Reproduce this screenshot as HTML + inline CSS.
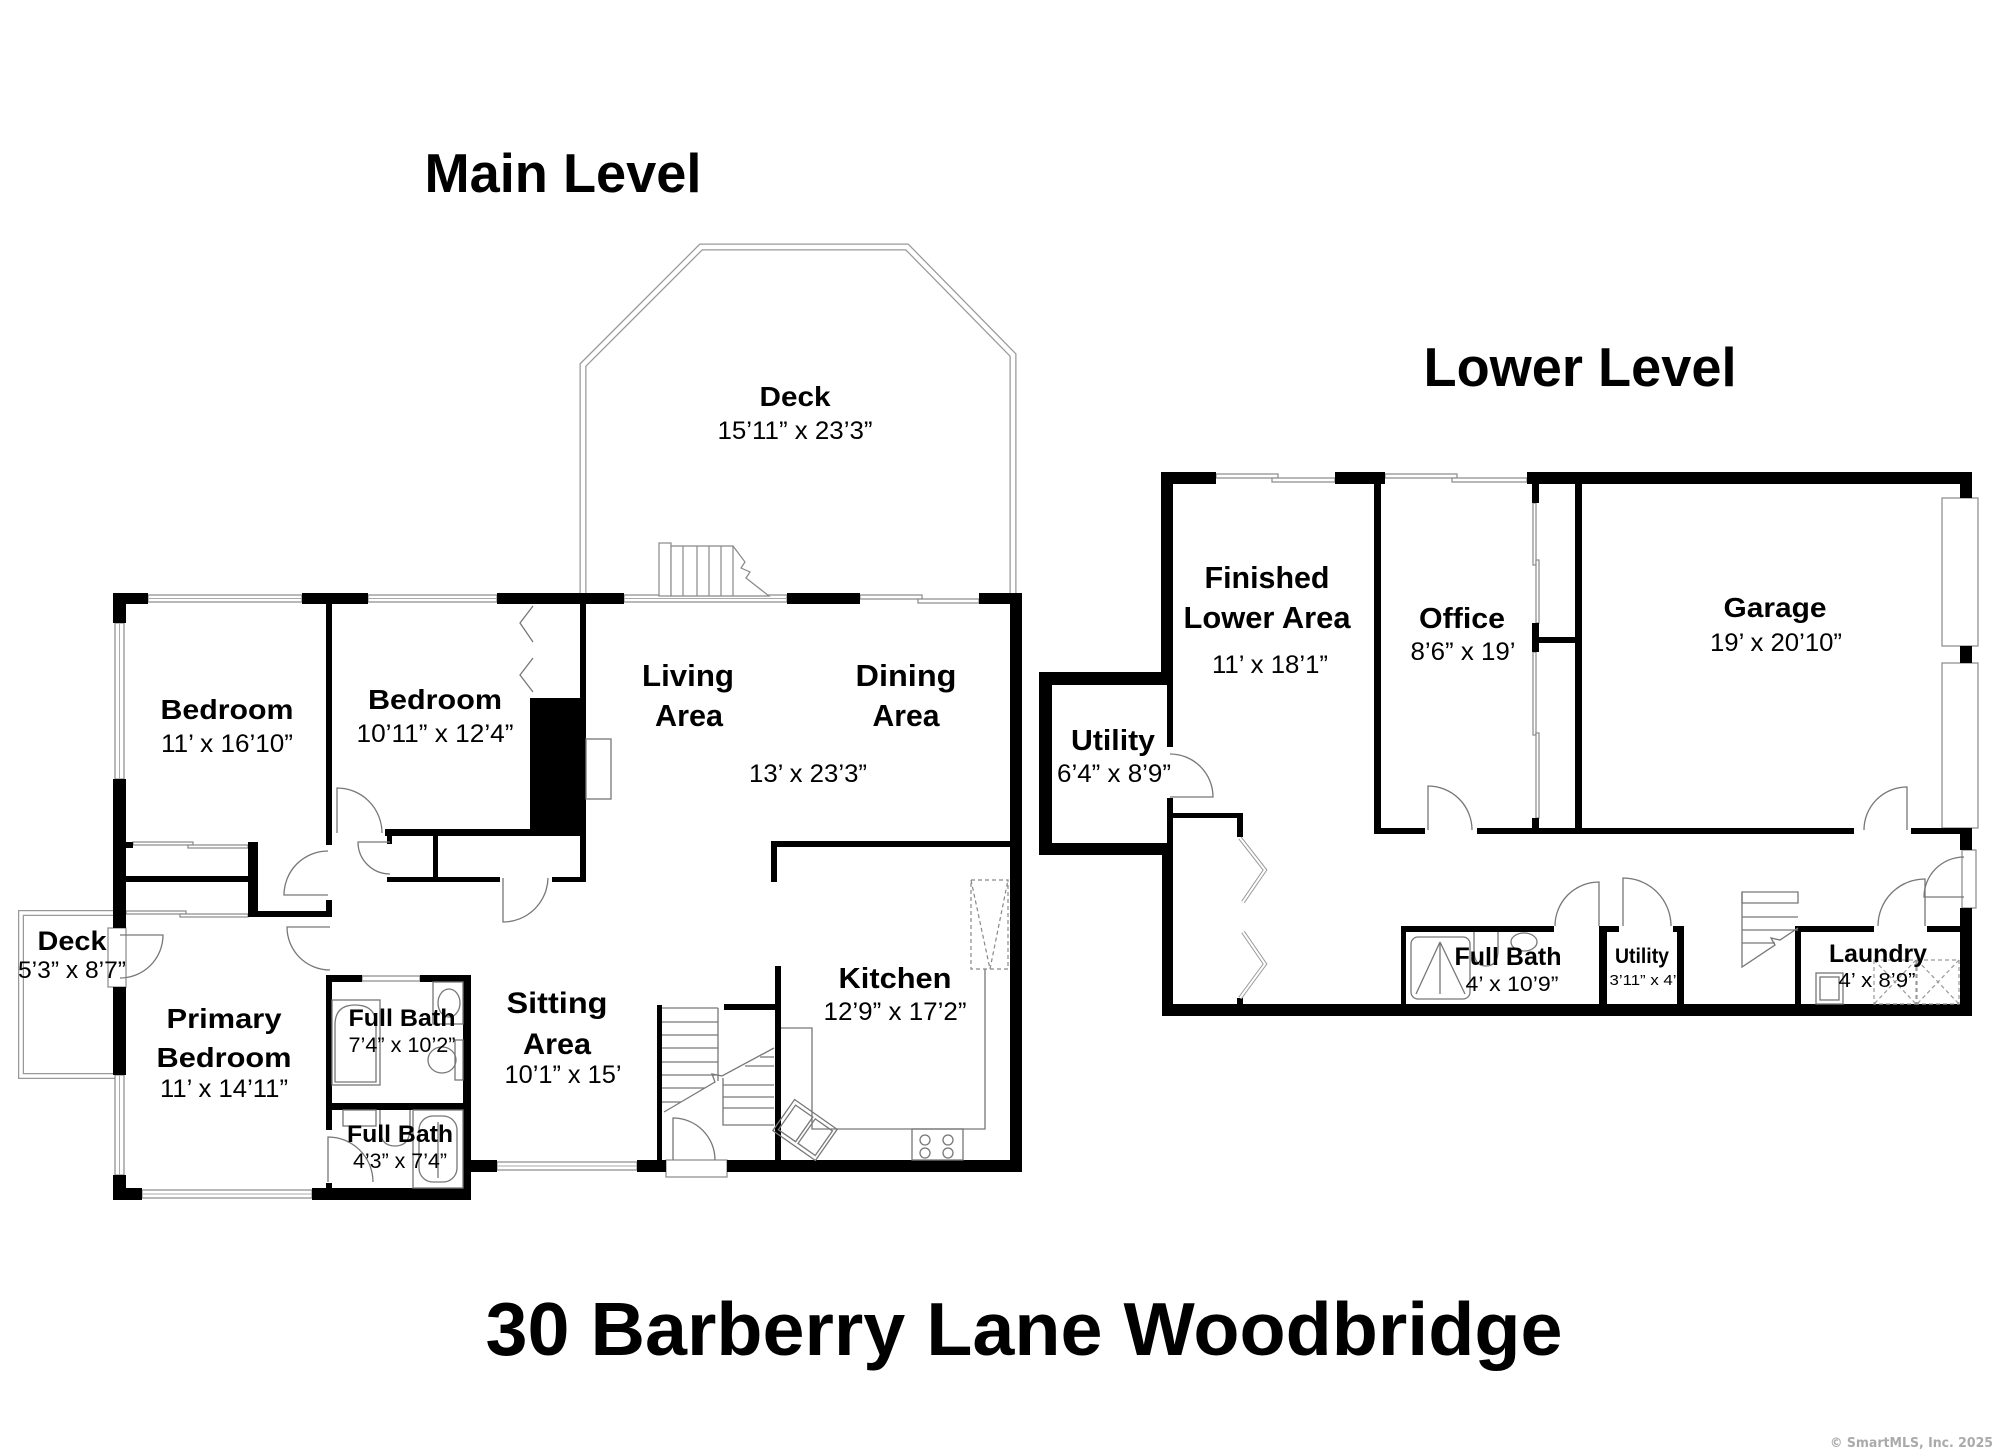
<!DOCTYPE html>
<html><head><meta charset="utf-8">
<style>
html,body{margin:0;padding:0;background:#fff;}
svg{display:block;}
text{font-family:"Liberation Sans",Arial,sans-serif;fill:#000;}
.b{font-weight:bold;}
</style></head><body>
<svg width="1999" height="1454" viewBox="0 0 1999 1454" xmlns="http://www.w3.org/2000/svg">
<rect width="1999" height="1454" fill="#fff"/>

<!-- ===== MAIN DECK (double line) ===== -->
<path d="M583,598 L583,365 L701,247 L907,247 L1013,355 L1013,598" fill="none" stroke="#999" stroke-width="7"/>
<path d="M583,598 L583,365 L701,247 L907,247 L1013,355 L1013,598" fill="none" stroke="#fff" stroke-width="4.5"/>
<!-- small left deck -->
<path d="M116,913 H21 V1076 H116" fill="none" stroke="#999" stroke-width="6"/>
<path d="M116,913 H21 V1076 H116" fill="none" stroke="#fff" stroke-width="3.5"/>

<!-- windows / sliding doors (gray) -->
<g fill="#fff" stroke="#888" stroke-width="1.2">
  <rect x="148" y="595" width="154" height="7"/>
  <rect x="368" y="595" width="129" height="7"/>
  <rect x="624" y="595" width="163" height="7"/>
  <rect x="860" y="595" width="62" height="4"/>
  <rect x="918" y="599" width="61" height="4"/>
  <rect x="115" y="623" width="9" height="156"/>
  <rect x="115" y="1075" width="9" height="100"/>
  <rect x="142" y="1190" width="170" height="8"/>
  <rect x="497" y="1162" width="140" height="8"/>
  <rect x="362" y="976" width="58" height="5"/>
  <rect x="666" y="1160" width="61" height="17"/>
  <rect x="108" y="928" width="18" height="59"/>
  <!-- bed1 closet sliding -->
  <rect x="133" y="842" width="60" height="3"/>
  <rect x="188" y="845" width="60" height="3"/>
  <rect x="126" y="911" width="60" height="3"/>
  <rect x="180" y="914" width="68" height="3"/>
  <!-- lower level -->
  <rect x="1216" y="474" width="62" height="4"/>
  <rect x="1272" y="478" width="63" height="4"/>
  <rect x="1385" y="474" width="72" height="4"/>
  <rect x="1452" y="478" width="75" height="4"/>
  <rect x="1942" y="498" width="36" height="148"/>
  <rect x="1942" y="663" width="36" height="165"/>
  <rect x="1962" y="850" width="14" height="58"/>
  <rect x="1533" y="503" width="3" height="62"/>
  <rect x="1536" y="560" width="3" height="63"/>
  <rect x="1533" y="652" width="3" height="83"/>
  <rect x="1536" y="733" width="3" height="85"/>
</g>
<g stroke="#aaa" stroke-width="1">
  <line x1="148" y1="598.5" x2="302" y2="598.5"/>
  <line x1="368" y1="598.5" x2="497" y2="598.5"/>
  <line x1="624" y1="598.5" x2="787" y2="598.5"/>
  <line x1="119.5" y1="623" x2="119.5" y2="779"/>
  <line x1="119.5" y1="1075" x2="119.5" y2="1175"/>
  <line x1="142" y1="1194" x2="312" y2="1194"/>
  <line x1="497" y1="1166" x2="637" y2="1166"/>
</g>

<!-- deck stairs -->
<g fill="#fff" stroke="#888" stroke-width="1.2">
  <rect x="659" y="543" width="12" height="53"/>
  <path d="M671,546 H733 L745,562 L741,568 L750,572 L746,578 L769,596 H671 Z"/>
  <path d="M683,546 V596 M697,546 V596 M709,546 V596 M721,546 V596 M733,546 V596" fill="none"/>
</g>

<!-- ===== MAIN LEVEL WALLS ===== -->
<g fill="#000">
  <rect x="113" y="593" width="35" height="11"/>
  <rect x="302" y="593" width="66" height="11"/>
  <rect x="497" y="593" width="127" height="11"/>
  <rect x="787" y="593" width="73" height="11"/>
  <rect x="979" y="593" width="43" height="11"/>
  <rect x="113" y="593" width="13" height="30"/>
  <rect x="113" y="779" width="13" height="149"/>
  <rect x="113" y="987" width="13" height="88"/>
  <rect x="113" y="1175" width="13" height="25"/>
  <rect x="113" y="1188" width="29" height="12"/>
  <rect x="312" y="1188" width="159" height="12"/>
  <rect x="463" y="975" width="8" height="225"/>
  <rect x="463" y="1160" width="34" height="12"/>
  <rect x="637" y="1160" width="29" height="12"/>
  <rect x="727" y="1160" width="295" height="12"/>
  <rect x="1010" y="593" width="12" height="579"/>
  <!-- interior -->
  <rect x="326" y="604" width="6" height="241"/>
  <rect x="126" y="842" width="7" height="6"/>
  <rect x="248" y="842" width="10" height="75"/>
  <rect x="126" y="876" width="122" height="6"/>
  <rect x="248" y="911" width="84" height="6"/>
  <rect x="326" y="900" width="6" height="17"/>
  <rect x="385" y="829" width="200" height="7"/>
  <rect x="433" y="836" width="5" height="46"/>
  <rect x="387" y="877" width="113" height="5"/>
  <rect x="552" y="877" width="33" height="5"/>
  <rect x="580" y="604" width="6" height="278"/>
  <rect x="530" y="698" width="56" height="138"/>
  <rect x="387" y="836" width="5" height="8"/>
  <!-- baths -->
  <rect x="326" y="975" width="36" height="7"/>
  <rect x="420" y="975" width="51" height="7"/>
  <rect x="326" y="975" width="6" height="155"/>
  <rect x="326" y="1103" width="145" height="7"/>
  <rect x="326" y="1183" width="6" height="8"/>
  <!-- stairs / kitchen -->
  <rect x="657" y="1005" width="5" height="155"/>
  <rect x="724" y="1004" width="51" height="6"/>
  <rect x="775" y="966" width="6" height="194"/>
  <rect x="771" y="841" width="239" height="6"/>
  <rect x="771" y="841" width="6" height="41"/>
</g>

<!-- main level fixtures & doors -->
<g fill="none" stroke="#777" stroke-width="1.3">
  <path d="M328,895 H284 A44,44 0 0 1 328,851"/>
  <path d="M330,927 H287 A43,43 0 0 0 330,970"/>
  <path d="M337,833 V788 A45,45 0 0 1 382,833"/>
  <path d="M390,842 H358 A32,32 0 0 0 390,874"/>
  <path d="M503,878 V922 A45,45 0 0 0 548,878"/>
  <path d="M120,935 H163 A43,43 0 0 1 120,978"/>
  <path d="M328,1182 V1137 A45,45 0 0 1 373,1182"/>
  <path d="M673,1160 V1118 A42,42 0 0 1 715,1160"/>
  <!-- hearth -->
  <rect x="586" y="739" width="25" height="60"/>
  <!-- bath1 -->
  <path d="M335,1082 V1025 Q335,1005 355,1005 Q376,1005 376,1025 V1082 Z"/>
  <rect x="332" y="1000" width="48" height="85"/>
  <rect x="433" y="982" width="30" height="42"/>
  <ellipse cx="449" cy="1003" rx="11" ry="14"/>
  <rect x="455" y="1040" width="8" height="40"/>
  <ellipse cx="442" cy="1060" rx="14" ry="13"/>
  <!-- bath2 -->
  <rect x="413" y="1110" width="50" height="78"/>
  <rect x="419" y="1116" width="38" height="66" rx="14"/>
  <line x1="438" y1="1122" x2="438" y2="1178"/>
  <rect x="343" y="1110" width="33" height="16"/>
  <path d="M380,1110 V1128 Q380,1146 395,1146 Q410,1146 410,1128 V1110"/>
  <!-- kitchen -->
  <path d="M781,1028 H812 V1129 H985 V969"/>
  <rect x="912" y="1129" width="51" height="31"/>
  <circle cx="925" cy="1140" r="5"/><circle cx="948" cy="1140" r="5"/>
  <circle cx="925" cy="1153" r="5"/><circle cx="948" cy="1153" r="5"/>
  <g transform="translate(805,1130) rotate(35)">
    <rect x="-26" y="-19" width="52" height="38"/>
    <rect x="-22" y="-15" width="21" height="30"/>
    <rect x="2" y="-15" width="21" height="30"/>
  </g>
  <!-- bifold bedroom2 -->
  <path d="M533,606 L520,623 L533,642 M533,658 L520,675 L533,692"/>
  <!-- stairs interior -->
  <path d="M662,1008 H718 M662,1022 H718 M662,1035 H718 M662,1048 H718 M662,1062 H718 M662,1075 H718 M662,1088 H705 M662,1102 H681"/>
  <path d="M718,1008 V1081"/>
  <path d="M664,1112 L715,1082 L712,1074 L722,1076 L774,1048"/>
  <path d="M723,1078 V1125 H774 M723,1085 H774 M723,1097 H774 M723,1108 H774 M745,1066 H774 M760,1057 H774"/>
</g>
<g fill="none" stroke="#888" stroke-width="1.2" stroke-dasharray="4,3">
  <rect x="971" y="880" width="37" height="89"/>
  <path d="M971,880 L990,969 L1008,880"/>
</g>

<!-- ===== LOWER LEVEL WALLS ===== -->
<g fill="#000">
  <rect x="1161" y="472" width="55" height="12"/>
  <rect x="1335" y="472" width="50" height="12"/>
  <rect x="1527" y="472" width="445" height="12"/>
  <rect x="1960" y="472" width="12" height="26"/>
  <rect x="1960" y="646" width="12" height="17"/>
  <rect x="1960" y="828" width="12" height="22"/>
  <rect x="1960" y="908" width="12" height="108"/>
  <rect x="1162" y="1004" width="810" height="12"/>
  <rect x="1161" y="472" width="12" height="213"/>
  <rect x="1039" y="672" width="134" height="13"/>
  <rect x="1039" y="672" width="13" height="183"/>
  <rect x="1039" y="843" width="134" height="12"/>
  <rect x="1167" y="685" width="6" height="62"/>
  <rect x="1167" y="798" width="6" height="57"/>
  <rect x="1162" y="843" width="11" height="173"/>
  <rect x="1173" y="813" width="70" height="5"/>
  <rect x="1237" y="813" width="6" height="24"/>
  <rect x="1237" y="998" width="6" height="6"/>
  <rect x="1374" y="484" width="7" height="350"/>
  <rect x="1374" y="828" width="51" height="6"/>
  <rect x="1477" y="828" width="377" height="6"/>
  <rect x="1911" y="828" width="61" height="6"/>
  <rect x="1532" y="484" width="7" height="19"/>
  <rect x="1532" y="623" width="7" height="29"/>
  <rect x="1532" y="818" width="7" height="16"/>
  <rect x="1539" y="637" width="36" height="6"/>
  <rect x="1575" y="484" width="7" height="350"/>
  <rect x="1401" y="926" width="5" height="78"/>
  <rect x="1401" y="926" width="153" height="6"/>
  <rect x="1599" y="926" width="20" height="6"/>
  <rect x="1599" y="926" width="8" height="78"/>
  <rect x="1673" y="926" width="11" height="6"/>
  <rect x="1677" y="926" width="7" height="78"/>
  <rect x="1795" y="926" width="79" height="6"/>
  <rect x="1795" y="926" width="6" height="78"/>
  <rect x="1927" y="926" width="33" height="6"/>
</g>

<!-- lower doors & fixtures -->
<g fill="none" stroke="#777" stroke-width="1.3">
  <path d="M1170,797 H1213 A43,43 0 0 0 1170,754"/>
  <path d="M1428,830 V786 A44,44 0 0 1 1472,830"/>
  <path d="M1907,830 V787 A43,43 0 0 0 1864,830"/>
  <path d="M1964,897 H1924 A40,40 0 0 1 1964,857"/>
  <path d="M1925,926 V879 A47,47 0 0 0 1878,926"/>
  <path d="M1623,926 V878 A48,48 0 0 1 1671,926"/>
  <path d="M1599,926 V882 A44,44 0 0 0 1555,926"/>
  <!-- stairs -->
  <path d="M1742,892 H1798 V903 H1742 Z"/>
  <path d="M1742,892 V967 L1775,945 L1771,938 L1780,940 L1798,928"/>
  <path d="M1742,917 H1798 M1742,930 H1798 M1742,943 H1775"/>
  <!-- lower bath -->
  <rect x="1411" y="937" width="59" height="62" rx="7"/>
  <path d="M1440,942 L1416,994 M1440,942 L1465,994 M1440,942 V994"/>
  <path d="M1474,932 V950 Q1474,966 1486,966 Q1498,966 1498,950 V932"/>
  <ellipse cx="1524" cy="942" rx="13" ry="9"/>
  <!-- laundry tub -->
  <rect x="1816" y="973" width="27" height="31"/>
  <rect x="1820" y="977" width="19" height="23"/>
</g>
<g fill="none" stroke="#999" stroke-width="1.2" stroke-dasharray="4,3">
  <rect x="1874" y="960" width="42" height="44"/>
  <rect x="1917" y="960" width="42" height="44"/>
  <path d="M1874,960 L1916,1004 M1916,960 L1874,1004 M1917,960 L1959,1004 M1959,960 L1917,1004"/>
</g>
<!-- bifold lower -->
<path d="M1240,838 L1265,870 L1243,902 M1243,932 L1265,964 L1240,998" fill="none" stroke="#999" stroke-width="4"/>
<path d="M1240,838 L1265,870 L1243,902 M1243,932 L1265,964 L1240,998" fill="none" stroke="#fff" stroke-width="2"/>

<!-- ===== TEXT ===== -->
<g text-anchor="middle">
  <text class="b" x="563" y="192" font-size="55" textLength="277" lengthAdjust="spacingAndGlyphs">Main Level</text>
  <text class="b" x="1580" y="386" font-size="55" textLength="313" lengthAdjust="spacingAndGlyphs">Lower Level</text>
  <text class="b" x="1024" y="1355" font-size="75" textLength="1077" lengthAdjust="spacingAndGlyphs">30 Barberry Lane Woodbridge</text>

  <text class="b" x="795" y="406" font-size="28" textLength="71" lengthAdjust="spacingAndGlyphs">Deck</text>
  <text x="795" y="439" font-size="25" textLength="155" lengthAdjust="spacingAndGlyphs">15’11” x 23’3”</text>

  <text class="b" x="227" y="719" font-size="28" textLength="133" lengthAdjust="spacingAndGlyphs">Bedroom</text>
  <text x="227" y="752" font-size="25" textLength="132" lengthAdjust="spacingAndGlyphs">11’ x 16’10”</text>
  <text class="b" x="435" y="709" font-size="28" textLength="134" lengthAdjust="spacingAndGlyphs">Bedroom</text>
  <text x="435" y="742" font-size="25" textLength="157" lengthAdjust="spacingAndGlyphs">10’11” x 12’4”</text>

  <text class="b" x="688" y="686" font-size="31" textLength="92" lengthAdjust="spacingAndGlyphs">Living</text>
  <text class="b" x="689" y="726" font-size="31" textLength="68" lengthAdjust="spacingAndGlyphs">Area</text>
  <text class="b" x="906" y="686" font-size="31" textLength="101" lengthAdjust="spacingAndGlyphs">Dining</text>
  <text class="b" x="906" y="726" font-size="31" textLength="67" lengthAdjust="spacingAndGlyphs">Area</text>
  <text x="808" y="782" font-size="25" textLength="118" lengthAdjust="spacingAndGlyphs">13’ x 23’3”</text>

  <text class="b" x="72" y="950" font-size="27" textLength="69" lengthAdjust="spacingAndGlyphs">Deck</text>
  <text x="72" y="978" font-size="24" textLength="108" lengthAdjust="spacingAndGlyphs">5’3” x 8’7”</text>

  <text class="b" x="224" y="1028" font-size="28" textLength="115" lengthAdjust="spacingAndGlyphs">Primary</text>
  <text class="b" x="224" y="1067" font-size="28" textLength="135" lengthAdjust="spacingAndGlyphs">Bedroom</text>
  <text x="224" y="1097" font-size="25" textLength="128" lengthAdjust="spacingAndGlyphs">11’ x 14’11”</text>

  <text class="b" x="402" y="1026" font-size="24" textLength="107" lengthAdjust="spacingAndGlyphs">Full Bath</text>
  <text x="402" y="1052" font-size="21" textLength="107" lengthAdjust="spacingAndGlyphs">7’4” x 10’2”</text>
  <text class="b" x="400" y="1142" font-size="24" textLength="106" lengthAdjust="spacingAndGlyphs">Full Bath</text>
  <text x="400" y="1168" font-size="21" textLength="94" lengthAdjust="spacingAndGlyphs">4’3” x 7’4”</text>

  <text class="b" x="557" y="1013" font-size="30" textLength="101" lengthAdjust="spacingAndGlyphs">Sitting</text>
  <text class="b" x="557" y="1054" font-size="30" textLength="68" lengthAdjust="spacingAndGlyphs">Area</text>
  <text x="563" y="1083" font-size="25" textLength="117" lengthAdjust="spacingAndGlyphs">10’1” x 15’</text>

  <text class="b" x="895" y="988" font-size="29" textLength="113" lengthAdjust="spacingAndGlyphs">Kitchen</text>
  <text x="895" y="1020" font-size="25" textLength="143" lengthAdjust="spacingAndGlyphs">12’9” x 17’2”</text>

  <text class="b" x="1267" y="588" font-size="31" textLength="125" lengthAdjust="spacingAndGlyphs">Finished</text>
  <text class="b" x="1267" y="628" font-size="31" textLength="167" lengthAdjust="spacingAndGlyphs">Lower Area</text>
  <text x="1270" y="673" font-size="25" textLength="116" lengthAdjust="spacingAndGlyphs">11’ x 18’1”</text>

  <text class="b" x="1462" y="628" font-size="29" textLength="86" lengthAdjust="spacingAndGlyphs">Office</text>
  <text x="1463" y="660" font-size="25" textLength="105" lengthAdjust="spacingAndGlyphs">8’6” x 19’</text>

  <text class="b" x="1113" y="750" font-size="29" textLength="84" lengthAdjust="spacingAndGlyphs">Utility</text>
  <text x="1114" y="782" font-size="25" textLength="114" lengthAdjust="spacingAndGlyphs">6’4” x 8’9”</text>

  <text class="b" x="1775" y="617" font-size="28" textLength="103" lengthAdjust="spacingAndGlyphs">Garage</text>
  <text x="1776" y="651" font-size="25" textLength="132" lengthAdjust="spacingAndGlyphs">19’ x 20’10”</text>

  <text class="b" x="1508" y="965" font-size="25" textLength="107" lengthAdjust="spacingAndGlyphs">Full Bath</text>
  <text x="1512" y="991" font-size="21" textLength="93" lengthAdjust="spacingAndGlyphs">4’ x 10’9”</text>

  <text class="b" x="1642" y="963" font-size="21" textLength="54" lengthAdjust="spacingAndGlyphs">Utility</text>
  <text x="1643" y="985" font-size="15" textLength="67" lengthAdjust="spacingAndGlyphs">3’11” x 4’</text>

  <text class="b" x="1878" y="962" font-size="25" textLength="98" lengthAdjust="spacingAndGlyphs">Laundry</text>
  <text x="1877" y="987" font-size="20" textLength="77" lengthAdjust="spacingAndGlyphs">4’ x 8’9”</text>
</g>
<text x="1830" y="1447" font-size="13" font-weight="bold" style="font-family:'DejaVu Sans',sans-serif;fill:#aaa" textLength="163" lengthAdjust="spacingAndGlyphs">© SmartMLS, Inc.  2025</text>
</svg>
</body></html>
